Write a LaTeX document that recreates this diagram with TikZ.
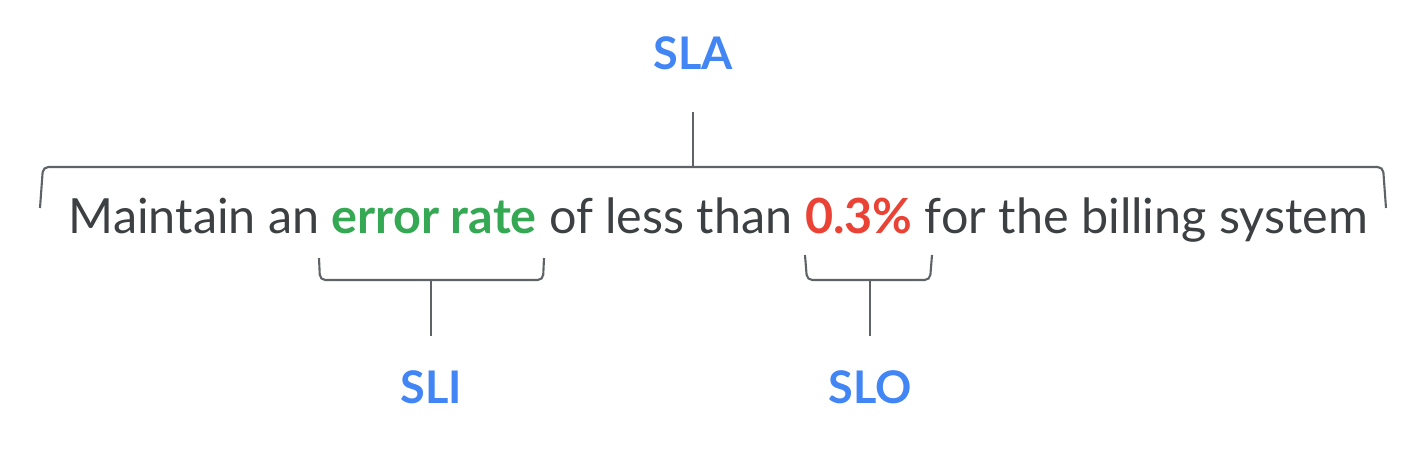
\documentclass[tikz,border=0pt]{standalone}
\usepackage{fontspec}
\setmainfont{Lato}
\usepackage{xcolor}
\definecolor{gblue}{HTML}{4285F4}
\definecolor{ggreen}{HTML}{34A853}
\definecolor{gred}{HTML}{EA4335}
\definecolor{textgray}{HTML}{3C4043}
\definecolor{linegray}{HTML}{5F6368}

\begin{document}
\begin{tikzpicture}[
    bracket/.style={draw=linegray,line width=0.6pt,rounded corners=1.5pt},
    tag/.style={anchor=base,text=gblue,font=\bfseries\fontsize{12.8}{15}\selectfont}]
\useasboundingbox (0,0) rectangle (14.25,-4.49);
% sentence
\node[anchor=base,text=textgray,font=\fontsize{13.8}{16}\selectfont] (sentence) at (7.185,-2.33)
  {Maintain an \textbf{\textcolor{ggreen}{error rate}} of less than \textbf{\textcolor{gred}{0.3\%}} for the billing system};
% labels
\node[tag] (sla) at (6.93,-0.69) {SLA};
\node[tag] (sli) at (4.31,-4.03) {SLI};
\node[tag] (slo) at (8.70,-4.03) {SLO};
% top bracket
\draw[bracket] (0.40,-2.08) -- (0.43,-1.67) -- (13.83,-1.67) -- (13.86,-2.08);
\coordinate (slafoot) at (6.93,-1.67);
\coordinate (slatop) at (6.93,-1.12);
\draw[bracket] (slafoot) -- (slatop);
% SLI bracket
\draw[bracket] (3.19,-2.58) -- (3.20,-2.80) -- (5.43,-2.80) -- (5.44,-2.58);
\coordinate (slifoot) at (4.31,-2.80);
\coordinate (slitail) at (4.31,-3.36);
\draw[bracket] (slifoot) -- (slitail);
% SLO bracket
\draw[bracket] (8.05,-2.55) -- (8.07,-2.80) -- (9.30,-2.80) -- (9.32,-2.55);
\coordinate (slofoot) at (8.70,-2.80);
\coordinate (slotail) at (8.70,-3.36);
\draw[bracket] (slofoot) -- (slotail);
\end{tikzpicture}
\end{document}
